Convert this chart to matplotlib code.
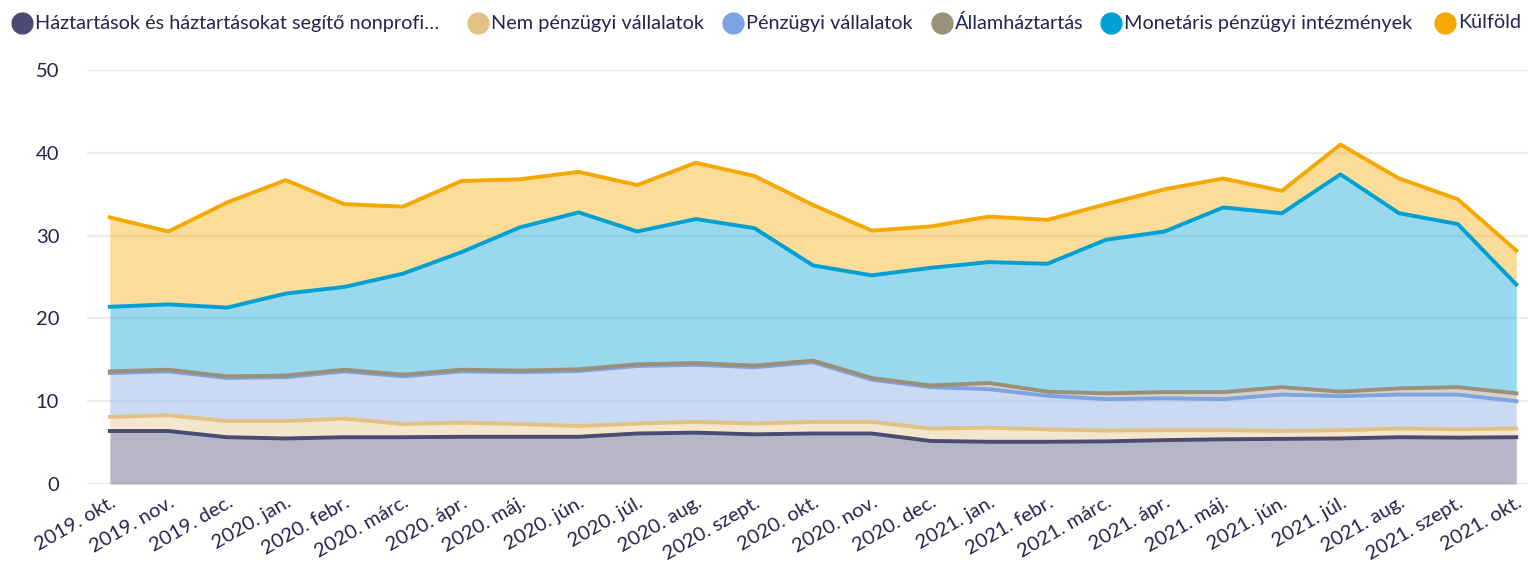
import matplotlib.pyplot as plt
import numpy as np

months = ["2019. okt.", "2019. nov.", "2019. dec.", "2020. jan.", "2020. febr.", "2020. márc.",
          "2020. ápr.", "2020. máj.", "2020. jún.", "2020. júl.", "2020. aug.", "2020. szept.",
          "2020. okt.", "2020. nov.", "2020. dec.", "2021. jan.", "2021. febr.", "2021. márc.",
          "2021. ápr.", "2021. máj.", "2021. jún.", "2021. júl.", "2021. aug.", "2021. szept.",
          "2021. okt."]

haztartasok = [6.4, 6.4, 5.65, 5.5, 5.65, 5.65, 5.7, 5.7, 5.7, 6.1, 6.2, 6.0, 6.1,
               6.1, 5.2, 5.1, 5.1, 5.15, 5.3, 5.4, 5.45, 5.5, 5.65, 5.6, 5.65]
nem_penzugyi = [1.7, 1.9, 1.95, 2.1, 2.25, 1.6, 1.7, 1.55, 1.3, 1.2, 1.3, 1.3, 1.4,
                1.4, 1.5, 1.7, 1.5, 1.3, 1.2, 1.1, 0.95, 1.0, 1.05, 1.0, 1.05]
penzugyi = [5.3, 5.3, 5.2, 5.3, 5.7, 5.75, 6.2, 6.25, 6.65, 6.95, 6.9, 6.8, 7.2,
            5.1, 5.0, 4.65, 4.05, 3.8, 3.85, 3.75, 4.4, 4.1, 4.1, 4.2, 3.3]
allamhaztartas = [0.2, 0.2, 0.2, 0.2, 0.2, 0.2, 0.2, 0.2, 0.2, 0.2, 0.2, 0.2, 0.2,
                  0.2, 0.2, 0.75, 0.5, 0.7, 0.75, 0.85, 0.9, 0.55, 0.75, 0.9, 0.95]
monetaris = [7.8, 7.9, 8.3, 9.9, 10.0, 12.2, 14.2, 17.3, 18.95, 16.05, 17.4, 16.6, 11.5,
             12.4, 14.2, 14.6, 15.45, 18.55, 19.4, 22.3, 21.0, 26.25, 21.15, 19.7, 13.15]
kulfold = [10.8, 8.8, 12.7, 13.7, 10.0, 8.1, 8.6, 5.8, 4.9, 5.6, 6.8, 6.3, 7.3,
           5.4, 5.0, 5.5, 5.3, 4.3, 5.1, 3.5, 2.7, 3.6, 4.2, 3.0, 4.1]

names = ["Háztartások és háztartásokat segítő nonprofi…", "Nem pénzügyi vállalatok",
         "Pénzügyi vállalatok", "Államháztartás", "Monetáris pénzügyi intézmények", "Külföld"]
colors = ["#4a4a72", "#e2c282", "#7ea3e2", "#9a8f78", "#009fd4", "#f5a800"]
text_color = "#24244e"

plt.rcParams['font.family'] = ['Lato', 'DejaVu Sans']

series = [haztartasok, nem_penzugyi, penzugyi, allamhaztartas, monetaris, kulfold]
x = np.arange(len(months))

W, H = 1528, 564
fig = plt.figure(figsize=(W / 100, H / 100), dpi=100)
ax = fig.add_axes([87 / W, 1 - 484 / H, 1 - 87 / W, (484 - 70) / H])

ax.set_ylim(0, 50)
ax.set_xlim(-0.39, 24.2)
ax.set_yticks([0, 10, 20, 30, 40, 50])
ax.yaxis.grid(True, color="#ececec", lw=1.6, zorder=0)
ax.set_axisbelow(True)

bottom = np.zeros(len(months))
for vals, c in zip(series, colors):
    top = bottom + np.array(vals)
    ax.fill_between(x, bottom, top, color=c, alpha=0.4, lw=0, zorder=1)
    bottom = top

# lines on top of all fills, drawn at the cumulative heights
bottom = np.zeros(len(months))
for vals, c in zip(series, colors):
    bottom = bottom + np.array(vals)
    ax.plot(x, bottom, color=c, lw=2.8, solid_joinstyle="round", zorder=3)

for s in ax.spines.values():
    s.set_visible(False)
ax.tick_params(axis="both", length=0, colors=text_color, labelsize=14.5)
ax.tick_params(axis="y", pad=20)
ax.set_xticks(x)
ax.set_xticklabels(months, rotation=30, ha="right", rotation_mode="anchor")
ax.tick_params(axis="x", pad=7)

# legend row along the top, laid out in pixel coordinates
lax = fig.add_axes([0, 0, 1, 1], zorder=5)
lax.set_xlim(0, W)
lax.set_ylim(H, 0)
lax.axis("off")
legend_x = [22, 478, 733, 942, 1111, 1445]
for lx, c, name in zip(legend_x, colors, names):
    lax.plot(lx, 23, marker="o", markersize=15, color=c, ls="")
    lax.text(lx + 13, 23, name, color=text_color, fontsize=14.3, va="center", ha="left")

fig.savefig("out.png", dpi=100)
